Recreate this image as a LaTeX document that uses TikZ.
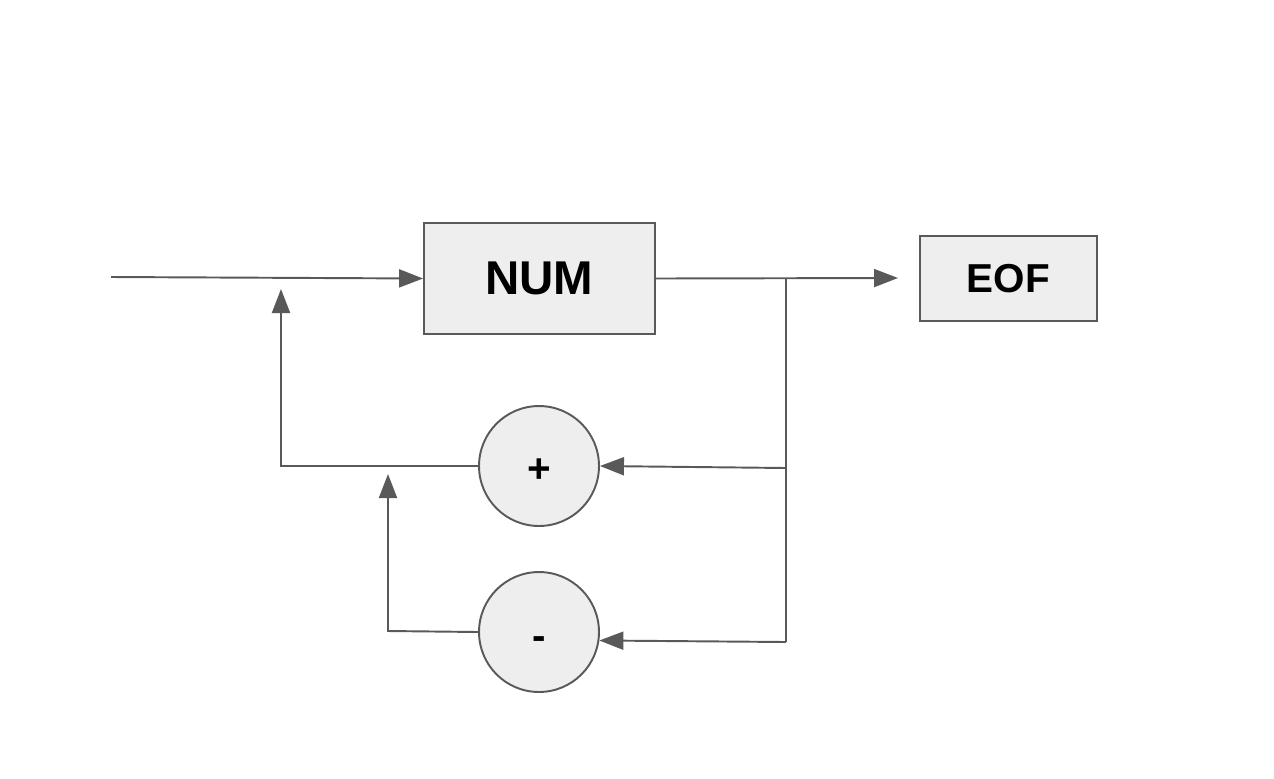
\documentclass[tikz,border=0pt]{standalone}
\usepackage{fontspec}
\setmainfont{Liberation Sans}
\usepackage{xcolor}
\usepackage{tikz}
\usetikzlibrary{arrows.meta}
\definecolor{linegray}{HTML}{595959}
\definecolor{boxfill}{HTML}{EEEEEE}

\begin{document}
\begin{tikzpicture}[x=0.02cm,y=-0.02cm,>={Triangle[length=0.48cm,width=0.36cm]},
box/.style={draw=linegray,fill=boxfill,line width=1.1pt,inner sep=0pt},
ring/.style={circle,draw=linegray,fill=boxfill,line width=1.1pt,minimum size=2.4cm,inner sep=0pt},
sign/.style={inner sep=0pt,font=\bfseries\fontsize{23}{25}\selectfont},
flow/.style={draw=linegray,line width=1.1pt}]
\useasboundingbox(0,0)rectangle(1274,778);
\node[box,minimum width=4.62cm,minimum height=2.22cm,font=\bfseries\fontsize{27}{29}\selectfont](num)at(539.5,278.5){NUM};
\node[box,minimum width=3.54cm,minimum height=1.70cm,font=\bfseries\fontsize{23}{25}\selectfont](eof)at(1008.5,278.5){EOF};
\node[ring,label={[sign,yshift=-0.1cm]center:+}](plus)at(539,466){};
\node[ring,label={[sign,yshift=-0.22cm]center:-}](minus)at(539,632){};
\coordinate(start)at(111,277);
\coordinate(out)at(898,278);
\coordinate(split)at(786,278);
\coordinate(splitp)at(786,468);
\coordinate(splitm)at(786,642);
\coordinate(backp)at(281,466);
\coordinate(tipp)at(281,289);
\coordinate(backm)at(388,631);
\coordinate(tipm)at(388,474);
\draw[flow,->](start)--(num.west);
\draw[flow,->](num.east)--(out);
\draw[flow](split)--(splitm);
\draw[flow,->](splitp)--(plus.east);
\draw[flow,->](splitm)--(minus.-8);
\draw[flow,->](plus.west)--(backp)--(tipp);
\draw[flow,->](minus.west)--(backm)--(tipm);
\end{tikzpicture}
\end{document}
